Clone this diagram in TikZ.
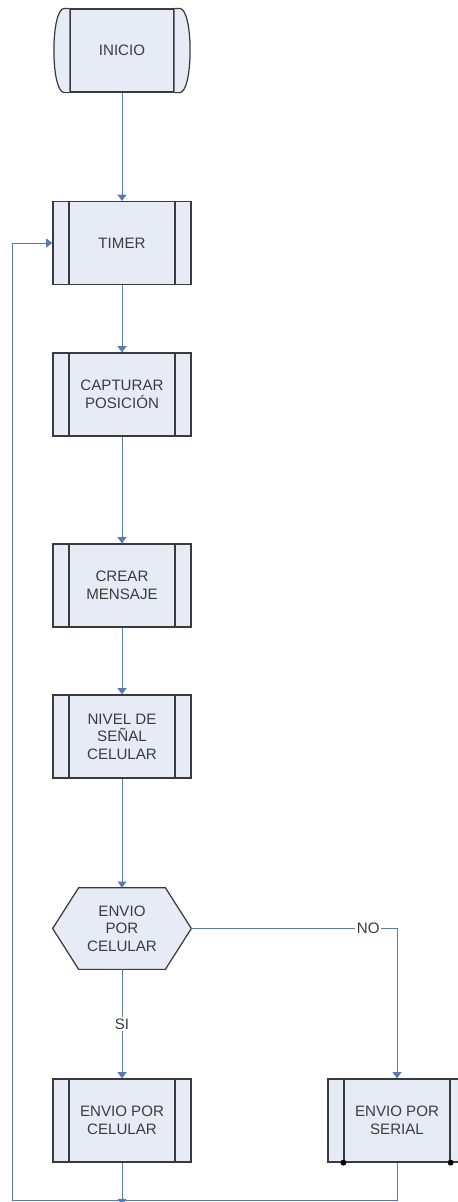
\documentclass[tikz,border=0pt]{standalone}
\usepackage{fontspec}
\setmainfont{Liberation Sans}
\usepackage{tikz}
\usetikzlibrary{positioning}
\usetikzlibrary{arrows.meta}
\usetikzlibrary{backgrounds}
\definecolor{boxfill}{HTML}{E7EBF6}
\definecolor{boxline}{HTML}{3A3A3A}
\definecolor{linkblue}{HTML}{5A7AB0}
\definecolor{textgray}{HTML}{3C3C3C}
\tikzset{%
  process/.style  = {draw=boxline, line width=0.7pt, fill=boxfill, rectangle,
    minimum width = 2.76cm, minimum height = 1.66cm, align=center,
    text=textgray, font=\fontsize{8.6}{10}\selectfont,
    path picture = {
      \draw[boxline, line width=0.7pt]
        ([xshift=3.2mm]path picture bounding box.north west) --
        ([xshift=3.2mm]path picture bounding box.south west)
        ([xshift=-3.2mm]path picture bounding box.north east) --
        ([xshift=-3.2mm]path picture bounding box.south east);}},
  terminal/.style = {draw=boxline, line width=0.7pt, fill=boxfill, rectangle,
    minimum width = 2.08cm, minimum height = 1.66cm, align=center,
    text=textgray, font=\fontsize{8.6}{10}\selectfont}, % Start
  decision/.style = {rectangle, minimum width = 2.76cm, minimum height = 1.62cm,
    align=center, text=textgray, font=\fontsize{8.6}{10}\selectfont},
  outline/.style  = {draw=boxline, line width=0.7pt, fill=boxfill},
  link/.style     = {draw=linkblue, line width=0.55pt},
  answer/.style   = {auto=false, anchor=center, fill=white, text=textgray,
    inner sep=1pt, font=\fontsize{8.6}{10}\selectfont}
}
\begin{document}
\begin{tikzpicture}[auto, node distance=3.85cm, >={Triangle[width=5pt,length=3.5pt]}]

  \useasboundingbox (0,0) rectangle (9.16,-24.04);

  \draw node at (2.44,-1.01) [terminal] (ini) {INICIO};
  \draw node [process, below of= ini] (timer) {TIMER};
  \draw node [process, below of= timer, node distance = 3.03cm] (cap) {CAPTURAR\\POSICIÓN};
  \draw node [process, below of= cap, node distance = 3.82cm] (msg) {CREAR\\MENSAJE};
  \draw node [process, below of= msg, node distance = 3.02cm] (sig) {NIVEL DE\\SEÑAL\\CELULAR};
  \draw node [decision, below of= sig, node distance = 3.84cm] (dec) {ENVIO\\POR\\CELULAR};
  \draw node [process, below of= dec, node distance = 3.84cm] (cel) {ENVIO POR\\CELULAR};
  \draw node [process, right of= cel, node distance = 5.5cm] (ser) {ENVIO POR\\SERIAL};

  % rounded ends of the start block
  \draw[outline] (ini.north west) -- ([xshift=-1mm]ini.north west)
    .. controls ([xshift=-3.8mm]ini.north west) and ([xshift=-3.8mm]ini.south west)
    .. ([xshift=-1mm]ini.south west) -- (ini.south west);
  \draw[outline] (ini.north east) -- ([xshift=1mm]ini.north east)
    .. controls ([xshift=3.8mm]ini.north east) and ([xshift=3.8mm]ini.south east)
    .. ([xshift=1mm]ini.south east) -- (ini.south east);

  % hexagon behind the decision text
  \begin{scope}[on background layer]
    \draw[outline] (dec.west) -- ([xshift=5.2mm]dec.north west)
      -- ([xshift=-5.2mm]dec.north east) -- (dec.east)
      -- ([xshift=-5.2mm]dec.south east) -- ([xshift=5.2mm]dec.south west) -- cycle;
  \end{scope}

  % dots on the serial block
  \fill[black] ([xshift=3.2mm]ser.south west) circle (1.7pt);
  \fill[black] ([xshift=-3.2mm]ser.south east) circle (1.7pt);

  \coordinate (back) at (0.25,-24.0);

  \draw[link, ->] (ini) -- (timer);
  \draw[link, ->] (timer) -- (cap);
  \draw[link, ->] (cap) -- (msg);
  \draw[link, ->] (msg) -- (sig);
  \draw[link, ->] (sig) -- (dec);
  \draw[link, ->] (dec) -- node[answer, midway] {SI} (cel);
  \draw[link, ->] (dec) -| node[answer, pos=0.43] {NO} (ser);
  \draw[link, ->] (cel) -- ([yshift=-1mm]cel |- back);
  \draw[link, ->] (ser) |- (back) |- (timer);

\end{tikzpicture}
\end{document}
